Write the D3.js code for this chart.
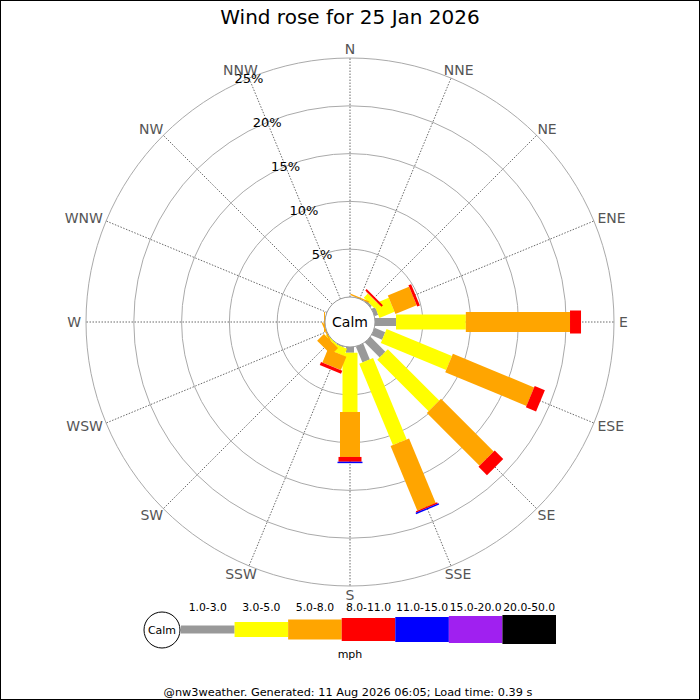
<!DOCTYPE html>
<html lang="en">
<head>
  <meta charset="UTF-8">
  <title>Wind rose</title>
  <script src="https://d3js.org/d3.v7.min.js"></script>
  <style>
    body { background: #fff; margin: 0; }
    svg { display: block; font-family: "DejaVu Sans", sans-serif; }
    .ring { fill: none; stroke: #aaa; stroke-width: 1; }
    .spoke { stroke: #444; stroke-width: 0.8; stroke-dasharray: 1.5,1.5; }
    .dir-label { fill: #555; font-size: 14px; }
    .pct-label { fill: #000; font-size: 13px; }
  </style>
</head>
<body>
<svg width="700" height="700"></svg>
<script>
const directions = ["N","NNE","NE","ENE","E","ESE","SE","SSE","S","SSW","SW","WSW","W","WNW","NW","NNW"];
const speedBins = ["1.0-3.0","3.0-5.0","5.0-8.0","8.0-11.0","11.0-15.0","15.0-20.0","20.0-50.0"];
const binColors = ["#999999","#ffff00","#ffa500","#ff0000","#0000ff","#a020f0","#000000"];
const binWidths = [8, 15, 20, 23, 25, 27, 29];
const pctTicks = [5, 10, 15, 20, 25];

// percent of the day per direction (N..NNW), one array per speed bin
const bin1to3   = [0, 0,    0.2,  0.4, 2.2,  1.2,  2.2,  1.8,  0.6, 0.1,  0,   0,    0,   0, 0, 0];
const bin3to5   = [0, 0,    0.6,  1.7, 7.3,  7.4,  7.6,  9.2,  6.2, 0.8,  0.2, 0,    0,   0, 0, 0];
const bin5to8   = [0, 0.15, 0.05, 2.4, 10.9, 9.2,  7.8,  7.3,  4.7, 1.5,  1.0, 0.15, 0.1, 0, 0, 0];
const bin8to11  = [0, 0,    0.2,  0.3, 1.15, 1.15, 1.25, 0.15, 0.5, 0.35, 0,   0,    0,   0, 0, 0];
const bin11to15 = [0, 0,    0,    0,   0,    0,    0,    0.15, 0.15,0,    0,   0,    0,   0, 0, 0];
const bin15to20 = [0, 0,    0,    0,   0,    0,    0,    0,    0,   0,    0,   0,    0,   0, 0, 0];
const bin20to50 = [0, 0,    0,    0,   0,    0,    0,    0,    0,   0,    0,   0,    0,   0, 0, 0];
const binSeries = [bin1to3, bin3to5, bin5to8, bin8to11, bin11to15, bin15to20, bin20to50];

const svg = d3.select("svg");
const cx = 350, cy = 322;
const calmR = 25, outerR = 264;

const r = d3.scaleLinear().domain([0, 25]).range([calmR, outerR]);
const angle = d3.scaleBand().domain(directions).range([0, 360]).paddingInner(0).align(0);
const dirAngle = d => angle(d); // N = 0, clockwise

// border
svg.append("rect")
  .attr("x", 0.5).attr("y", 0.5)
  .attr("width", 699).attr("height", 699)
  .attr("fill", "none").attr("stroke", "#000");

// title
svg.append("text")
  .attr("x", 350).attr("y", 24)
  .attr("text-anchor", "middle")
  .attr("font-size", 20)
  .text("Wind rose for 25 Jan 2026");

const rose = svg.append("g").attr("transform", `translate(${cx},${cy})`);

// rings
rose.selectAll(".ring")
  .data(pctTicks)
  .join("circle")
  .attr("class", "ring")
  .attr("r", d => r(d));

// spokes + direction labels
const rad = a => (a - 90) * Math.PI / 180;
rose.selectAll(".spoke")
  .data(directions)
  .join("line")
  .attr("class", "spoke")
  .attr("x1", d => r(0) * Math.cos(rad(dirAngle(d))))
  .attr("y1", d => r(0) * Math.sin(rad(dirAngle(d))))
  .attr("x2", d => r(25) * Math.cos(rad(dirAngle(d))))
  .attr("y2", d => r(25) * Math.sin(rad(dirAngle(d))));

// labels sit just outside the ring, pushed out by half their box
const labelR = outerR + 5;
rose.selectAll(".dir-label")
  .data(directions)
  .join("text")
  .attr("class", "dir-label")
  .attr("text-anchor", "middle")
  .attr("dominant-baseline", "central")
  .text(d => d)
  .each(function(d) {
    const a = rad(dirAngle(d));
    const w = this.getComputedTextLength();
    d3.select(this)
      .attr("x", (labelR + w / 2) * Math.cos(a))
      .attr("y", (labelR + 4) * Math.sin(a));
  });

// stacked bars
const rows = directions.map((d, i) => {
  const o = { dir: d };
  speedBins.forEach((b, j) => { o[b] = binSeries[j][i]; });
  return o;
});
const stacked = d3.stack().keys(speedBins)(rows);

stacked.forEach((layer, j) => {
  rose.append("g")
    .selectAll("rect")
    .data(layer.filter(s => s[1] - s[0] > 0))
    .join("rect")
    .attr("transform", s => `rotate(${dirAngle(s.data.dir)})`)
    .attr("x", -binWidths[j] / 2)
    .attr("width", binWidths[j])
    .attr("y", s => -r(s[1]))
    .attr("height", s => r(s[1]) - r(s[0]))
    .attr("fill", binColors[j]);
});

// percentage labels along NNW
rose.selectAll(".pct-label")
  .data(pctTicks)
  .join("text")
  .attr("class", "pct-label")
  .attr("x", d => r(d) * Math.cos(rad(dirAngle("NNW"))))
  .attr("y", d => r(d) * Math.sin(rad(dirAngle("NNW"))))
  .attr("text-anchor", "middle")
  .attr("dominant-baseline", "central")
  .text(d => d + "%");

// calm circle
rose.append("circle")
  .attr("r", calmR)
  .attr("fill", "#fff")
  .attr("stroke", "#999");
rose.append("text")
  .attr("text-anchor", "middle")
  .attr("dominant-baseline", "central")
  .attr("font-size", 14)
  .text("Calm");

// legend
const legY = 629.5;
const lx = d3.scaleLinear().domain([0, speedBins.length]).range([181, 556]);
const legend = svg.append("g");
legend.selectAll("rect")
  .data(speedBins)
  .join("rect")
  .attr("x", (d, i) => lx(i))
  .attr("width", (d, i) => lx(i + 1) - lx(i))
  .attr("y", (d, i) => legY - binWidths[i] / 2)
  .attr("height", (d, i) => binWidths[i])
  .attr("fill", (d, i) => binColors[i]);
legend.selectAll("text.bin")
  .data(speedBins)
  .join("text")
  .attr("class", "bin")
  .attr("x", (d, i) => (lx(i) + lx(i + 1)) / 2)
  .attr("y", 607)
  .attr("text-anchor", "middle")
  .attr("dominant-baseline", "central")
  .attr("font-size", 10.8)
  .text(d => d);
legend.append("circle")
  .attr("cx", 162).attr("cy", 630).attr("r", 18)
  .attr("fill", "#fff").attr("stroke", "#000");
legend.append("text")
  .attr("x", 162).attr("y", 630)
  .attr("text-anchor", "middle")
  .attr("dominant-baseline", "central")
  .attr("font-size", 11)
  .text("Calm");
legend.append("text")
  .attr("x", 350).attr("y", 654)
  .attr("text-anchor", "middle")
  .attr("dominant-baseline", "central")
  .attr("font-size", 11)
  .text("mph");

// footer
svg.append("text")
  .attr("x", 348).attr("y", 692)
  .attr("text-anchor", "middle")
  .attr("dominant-baseline", "central")
  .attr("font-size", 11.3)
  .text("@nw3weather. Generated: 11 Aug 2026 06:05; Load time: 0.39 s");
</script>
</body>
</html>
